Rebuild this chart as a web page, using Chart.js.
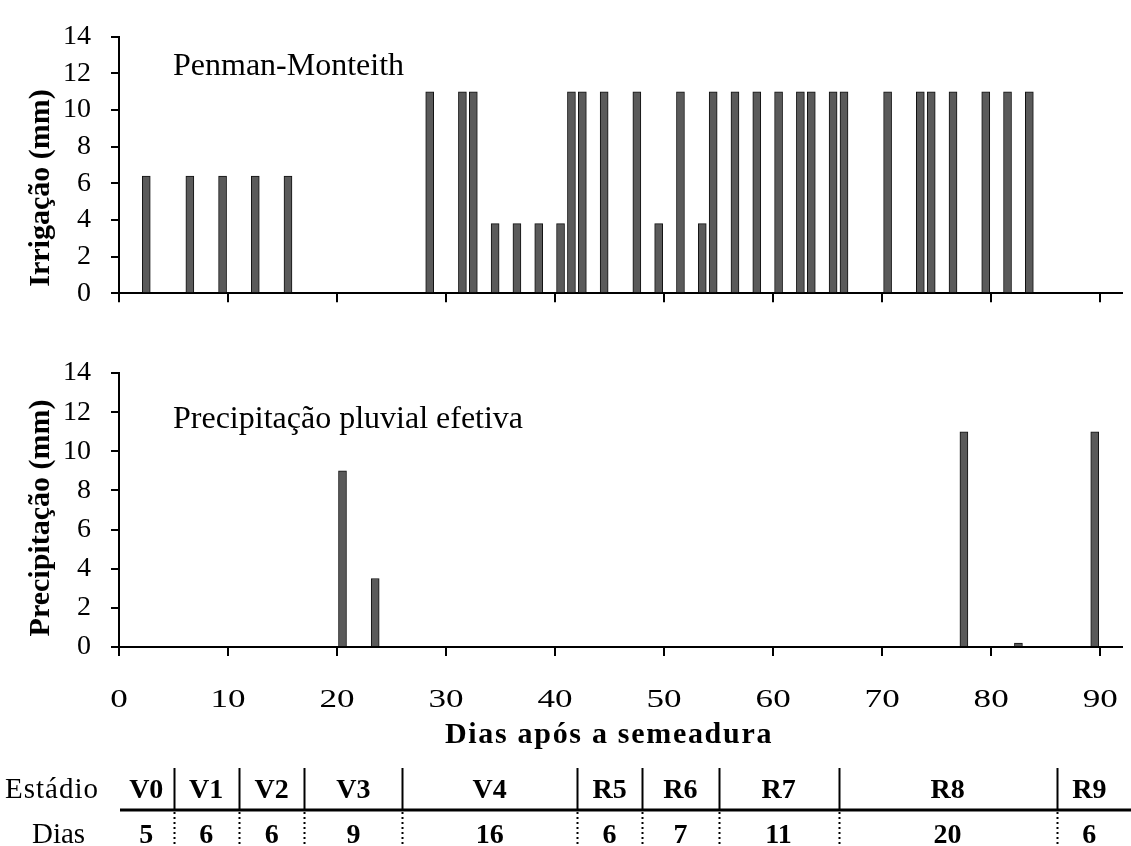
<!DOCTYPE html>
<html>
<head>
<meta charset="utf-8">
<script src="https://cdn.jsdelivr.net/npm/chart.js@4.4.1/dist/chart.umd.min.js"></script>
<style>
  body { margin: 0; background: #fff; }
  #wrap { position: relative; width: 1131px; height: 846px; background: #fff; }
  #irrig { position: absolute; left: 0; top: 0; }
  #chuva { position: absolute; left: 0; top: 330px; }
</style>
</head>
<body>
<div id="wrap">
  <canvas id="irrig" width="1131" height="330"></canvas>
  <canvas id="chuva" width="1131" height="516"></canvas>
</div>
<script>
// Irrigação (Penman-Monteith): dia após a semeadura e lâmina (mm)
const irrigDays = [2, 6, 9, 12, 15, 28, 31, 32, 34, 36, 38, 40, 41, 42, 44, 47, 49,
                   51, 53, 54, 56, 58, 60, 62, 63, 65, 66, 70, 73, 74, 76, 79, 81, 83];
const irrigMm = [6.4, 6.4, 6.4, 6.4, 6.4, 11, 11, 11, 3.8, 3.8, 3.8, 3.8, 11, 11, 11, 11, 3.8,
                 11, 3.8, 11, 11, 11, 11, 11, 11, 11, 11, 11, 11, 11, 11, 11, 11, 11];

// Precipitação pluvial efetiva
const rainDays = [20, 23, 77, 82, 89];
const rainMm = [9, 3.5, 11, 0.2, 11];

// eixos
const xMax = 92;
const xStep = 10;
const yMax = 14;
const yStep = 2;

// estádios fenológicos e duração (dias)
const stages = ['V0', 'V1', 'V2', 'V3', 'V4', 'R5', 'R6', 'R7', 'R8', 'R9'];
const stageDays = [5, 6, 6, 9, 16, 6, 7, 11, 20, 6];

const serif = '"Liberation Serif", "Times New Roman", serif';

// textos de cada painel: nota dentro do gráfico e título do eixo y (rodado)
const panelText = (note, noteY, title, titleY) => ({
    id: 'panelText',
    afterDraw(chart) {
        const ctx = chart.ctx;
        ctx.save();
        ctx.fillStyle = '#000';
        ctx.font = `32px ${serif}`;
        ctx.textAlign = 'left';
        ctx.textBaseline = 'alphabetic';
        ctx.fillText(note, 173, noteY);
        ctx.translate(49, titleY);
        ctx.rotate(-Math.PI / 2);
        ctx.font = `bold 30px ${serif}`;
        ctx.textAlign = 'center';
        ctx.fillText(title, 0, 0);
        ctx.restore();
    }
});

// rótulos do eixo x (um pouco esticados, como no original), título e tabela dos estádios
const bottomExtras = {
    id: 'bottomExtras',
    afterDraw(chart) {
        const ctx = chart.ctx;
        const x = chart.scales.x;
        ctx.save();
        ctx.fillStyle = '#000';

        ctx.font = `26px ${serif}`;
        ctx.textAlign = 'center';
        ctx.textBaseline = 'middle';
        x.ticks.forEach(t => {
            ctx.save();
            ctx.translate(x.getPixelForValue(t.value), 370);
            ctx.scale(1.35, 1);
            ctx.fillText(String(t.value), 0, 0);
            ctx.restore();
        });

        ctx.textBaseline = 'alphabetic';
        ctx.font = `bold 30px ${serif}`;
        ctx.letterSpacing = '1.7px';
        ctx.fillText('Dias após a semeadura', 609, 413);

        ctx.font = `29px ${serif}`;
        ctx.textAlign = 'left';
        ctx.letterSpacing = '1px';
        ctx.fillText('Estádio', 5, 468);
        ctx.letterSpacing = '0px';
        ctx.fillText('Dias', 32, 513);

        // linha horizontal
        ctx.strokeStyle = '#000';
        ctx.lineWidth = 3;
        ctx.beginPath();
        ctx.moveTo(120, 480);
        ctx.lineTo(1131, 480);
        ctx.stroke();

        let start = 0;
        ctx.font = `bold 28px ${serif}`;
        ctx.textAlign = 'center';
        stages.forEach((st, i) => {
            const end = start + stageDays[i];
            const x0 = x.getPixelForValue(start);
            const x1 = Math.min(x.getPixelForValue(end), x.right);
            const mid = (x0 + x1) / 2;
            ctx.fillText(st, mid, 468);
            ctx.fillText(String(stageDays[i]), mid, 513);
            if (i < stages.length - 1) {
                const px = Math.round(x.getPixelForValue(end)) + 0.5;
                ctx.lineWidth = 2;
                ctx.setLineDash([]);
                ctx.beginPath();
                ctx.moveTo(px, 438);
                ctx.lineTo(px, 480);
                ctx.stroke();
                ctx.setLineDash([2, 3]);
                ctx.beginPath();
                ctx.moveTo(px, 482);
                ctx.lineTo(px, 516);
                ctx.stroke();
            }
            start = end;
        });
        ctx.restore();
    }
};

const makeChart = (id, days, values, opts, extraPlugins) => {
    return new Chart(document.getElementById(id), {
        type: 'bar',
        data: {
            datasets: [{
                // cada dia ocupa o intervalo [d, d+1]; a barra fica no centro
                data: days.map((d, i) => ({ x: d + 0.5, y: values[i] })),
                backgroundColor: '#5a5a5a',
                borderColor: '#111',
                borderWidth: 1,
                barThickness: 8
            }]
        },
        options: {
            responsive: false,
            animation: false,
            devicePixelRatio: 1,
            layout: { padding: { top: opts.top, right: 9, left: 0, bottom: 0 } },
            plugins: { legend: { display: false }, tooltip: { enabled: false } },
            scales: {
                x: {
                    type: 'linear',
                    min: 0,
                    max: xMax,
                    offset: false,
                    afterBuildTicks: (s) => { s.ticks = s.ticks.filter(t => t.value % xStep === 0); },
                    ticks: {
                        stepSize: xStep,
                        includeBounds: false,
                        display: false,
                        autoSkip: false
                    },
                    grid: { offset: false, drawOnChartArea: false, tickLength: 9, color: '#000', lineWidth: 2 },
                    border: { color: '#000', width: 2 },
                    afterFit: (s) => { s.height = opts.xHeight; }
                },
                y: {
                    min: 0,
                    max: yMax,
                    ticks: {
                        stepSize: yStep,
                        color: '#000',
                        font: { family: serif, size: 28 },
                        padding: 20
                    },
                    grid: { drawOnChartArea: false, tickLength: 8, color: '#000', lineWidth: 2 },
                    border: { color: '#000', width: 2 },
                    afterFit: (s) => { s.width = 119; }
                }
            }
        },
        plugins: extraPlugins
    });
};

makeChart('irrig', irrigDays, irrigMm, { top: 26, xHeight: 25 },
    [panelText('Penman-Monteith', 75, 'Irrigação (mm)', 188)]);

makeChart('chuva', rainDays, rainMm, { top: 43, xHeight: 199 },
    [panelText('Precipitação pluvial efetiva', 98, 'Precipitação (mm)', 188), bottomExtras]);
</script>
</body>
</html>
